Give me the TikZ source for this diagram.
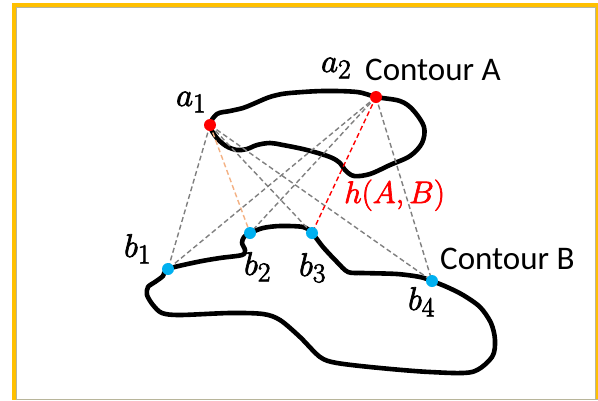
\documentclass[tikz,border=0pt]{standalone}
\usepackage{fontspec}
\newfontfamily\labelfont{Carlito}
\definecolor{frameyellow}{HTML}{FFC000}
\definecolor{frameline}{HTML}{B8B59A}
\definecolor{ptblue}{HTML}{00B0F0}
\definecolor{ptred}{HTML}{FF0000}
\definecolor{linkgray}{HTML}{808080}
\definecolor{linkpeach}{HTML}{F4B183}
% large math labels: \Huge math scaled up, glyphs slightly thickened by an outline stroke
\newcommand{\bigmath}[2][1.32]{{\Huge\special{pdf:literal q 2 Tr 0.55 w}\scalebox{#1}{$#2$}\special{pdf:literal Q}}}
\tikzset{
  contour/.style={line width=4.6pt, line join=round, black},
  link/.style={line width=1.4pt, dash pattern=on 5pt off 3pt},
  ptA/.style={circle, fill=ptred, inner sep=0pt, minimum size=12pt},
  ptB/.style={circle, fill=ptblue, inner sep=0pt, minimum size=12pt},
  mathlbl/.style={inner sep=0pt, anchor=base west},
  txtlbl/.style={inner sep=0pt, anchor=base west, font=\labelfont\fontsize{33}{38}\selectfont},
}
\begin{document}
\begin{tikzpicture}[x=1pt, y=-1pt]
  \useasboundingbox (0,0) rectangle (598,400);
  % frame
  \fill[frameyellow] (12,3) rectangle (598,400);
  \fill[white] (16,7) rectangle (595,399);
  \draw[frameline, line width=0.8pt] (16,400) -- (16,7) -- (595,7) -- (595,400);
  \draw[frameline, line width=1pt] (16,399) -- (598,399);

  % key points
  \coordinate (a1) at (210,125);
  \coordinate (a2) at (376,97);
  \coordinate (b1) at (168,269);
  \coordinate (b2) at (250,233);
  \coordinate (b3) at (312,233);
  \coordinate (b4) at (432,281);

  % contour A
  \draw[contour] plot[smooth cycle, tension=0.55] coordinates {
    (210,125) (217,114) (230,111) (243,108) (253,104) (267,98) (277,95)
    (290,93) (323,91) (357,92) (376,97) (400,101) (413,110) (424,127)
    (422,143) (410,156) (390,165) (370,174) (354,176) (345,170) (340,163)
    (330,157) (307,150) (283,145) (270,143) (257,145) (247,149) (237,150)
    (226,146) (216,137)};

  % contour B
  \draw[contour] plot[smooth cycle, tension=0.5] coordinates {
    (168,269) (197,262) (220,258) (242,255) (245,250) (242,243) (244,237)
    (250,233) (263,228) (280,226) (303,227) (312,233) (323,247) (337,262)
    (348,272) (363,273) (397,274) (420,277) (432,281) (447,287) (463,295)
    (480,307) (491,323) (495,340) (492,357) (472,372) (430,372) (380,368)
    (337,363) (320,357) (300,337) (280,320) (263,314) (230,313) (180,315)
    (162,313) (153,305) (147,295) (148,287) (155,282) (163,276)};

  % point-to-point distances
  \draw[link, linkgray] (a1) -- (b1);
  \draw[link, linkpeach] (a1) -- (b2);
  \draw[link, linkgray] (a1) -- (b3);
  \draw[link, linkgray] (a1) -- (b4);
  \draw[link, linkgray] (a2) -- (b1);
  \draw[link, linkgray] (a2) -- (b2);
  \draw[link, ptred] (a2) -- (b3);
  \draw[link, linkgray] (a2) -- (b4);

  % sample points
  \node[ptA] (pa1) at (a1) {};
  \node[ptA] (pa2) at (a2) {};
  \node[ptB] (pb1) at (b1) {};
  \node[ptB] (pb2) at (b2) {};
  \node[ptB] (pb3) at (b3) {};
  \node[ptB] (pb4) at (b4) {};

  % labels
  \node[mathlbl] (la1) at (176,106) {\bigmath{a_1}};
  \node[mathlbl] (la2) at (321,72) {\bigmath{a_2}};
  \node[mathlbl] (lb1) at (124,257) {\bigmath{b_1}};
  \node[mathlbl] (lb2) at (244,275) {\bigmath{b_2}};
  \node[mathlbl] (lb3) at (299,276) {\bigmath{b_3}};
  \node[mathlbl] (lb4) at (408,310) {\bigmath{b_4}};
  \node[mathlbl, text=ptred] (lh) at (344,203) {\bigmath[1.25]{h(A,B)}};
  \node[txtlbl] (lcA) at (365,80) {Contour A};
  \node[txtlbl] (lcB) at (440,269) {Contour B};
\end{tikzpicture}
\end{document}
